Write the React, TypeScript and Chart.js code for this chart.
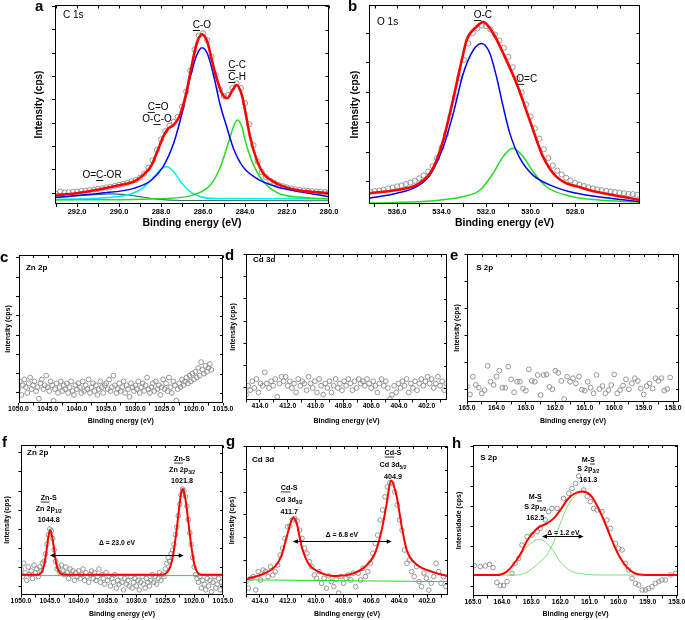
import React, { useEffect, useRef } from "react";
import { Chart, registerables } from "chart.js";

Chart.register(...registerables);

const FONT = "'Liberation Sans', Arial, Helvetica, sans-serif";
Chart.defaults.font.family = FONT;
Chart.defaults.color = "#000";

/* ======================= DATA ======================= */

// ---- a : C 1s ----
const aXTicks = [292, 290, 288, 286, 284, 282, 280];
const aCircleStart = 293.0;
const aCircleStep = 0.2;
const aCircles = [
  -0.3, 0.6, 0.2, 0.3, 0.5, 0.6, 0.9, 1.0, 1.2, 1.5,
  1.8, 2.0, 2.4, 2.7, 3.1, 3.5, 3.9, 4.3, 5.0, 5.6,
  6.6, 8.3, 10.8, 14.0, 18.5, 23.0, 26.5, 28.8, 30.5, 32.7,
  37.0, 43.5, 52.5, 61.5, 67.5, 68.5, 65.5, 58.5, 50.5, 44.5,
  41.5, 42.0, 45.0, 47.0, 45.0, 38.5, 29.5, 20.5, 13.5, 9.0,
  6.8, 5.2, 4.3, 3.5, 2.9, 2.4, 2.0, 1.6, 1.3, 1.1,
  0.9, 0.8, 0.6, 0.5, 0.4, 0.3,
];
const aFitSum = [
  [293.05, -0.9], [292.0, -0.1], [290.9, 1.6], [289.95, 3.4], [289.3, 4.9], [288.85, 7.7],
  [288.45, 12.0], [288.15, 18.4], [287.9, 24.1], [287.65, 27.7], [287.4, 29.1], [287.1, 33.4],
  [286.8, 42.7], [286.55, 54.1], [286.3, 64.1], [286.05, 68.0], [285.8, 64.9], [285.6, 57.7],
  [285.35, 49.1], [285.1, 42.7], [284.85, 40.6], [284.6, 44.1], [284.4, 46.3], [284.15, 42.0],
  [284.0, 35.6], [283.76, 24.1], [283.44, 14.1], [283.13, 8.4], [282.65, 4.9], [282.33, 3.4],
  [281.54, 1.3], [280.0, -0.1],
];
const aFitCO = [
  [293.05, -1.9], [290.9, -0.1], [289.3, 2.0], [288.45, 5.6], [287.9, 11.3], [287.4, 21.3],
  [287.0, 34.2], [286.6, 49.9], [286.3, 59.1], [286.05, 62.3], [285.8, 59.9], [285.5, 50.6],
  [285.2, 38.4], [284.85, 27.7], [284.55, 19.1], [284.1, 11.3], [283.45, 6.3], [282.5, 2.7],
  [281.4, 0.6], [280.0, -1.6],
];
const aFitCC = [
  [293.05, -3.0], [287.7, -2.3], [286.5, -0.9], [285.65, 3.4], [285.2, 10.6], [284.8, 21.3],
  [284.55, 28.4], [284.37, 31.3], [284.15, 28.4], [284.0, 22.7], [283.75, 15.5], [283.3, 7.0],
  [282.8, 2.0], [282.3, -0.5], [281.0, -2.0], [280.0, -2.5],
];
const aFitCdO = [
  [293.05, -2.7], [290.1, -1.6], [289.0, 1.3], [288.4, 6.3], [288.0, 10.3], [287.7, 11.3],
  [287.4, 9.1], [287.0, 4.1], [286.5, -0.1], [285.5, -2.3], [280.0, -2.4],
];
const aFitOCOR = [
  [293.05, -1.8], [291.5, -0.9], [290.3, -0.4], [289.2, -1.3], [288.2, -2.6], [287.0, -3.2], [280.0, -3.3],
];

// ---- b : O 1s ----
const bXTicks = [536, 534, 532, 530, 528];
const bCircleStart = 537.2;
const bCircleStep = 0.2;
const bCircles = [
  -3.3, -3.1, -2.9, -2.6, -2.2, -1.9, -1.5, -1.2, -0.7, -0.2,
  0.4, 1.2, 2.2, 3.5, 5.3, 8.0, 11.5, 16.0, 22.0, 28.5,
  35.0, 41.0, 46.5, 50.0, 51.5, 52.5, 52.3, 51.2, 49.5, 47.5,
  45.0, 42.0, 38.5, 34.5, 30.0, 26.0, 22.0, 18.0, 14.5, 11.0,
  8.0, 5.5, 3.8, 2.5, 1.4, 0.5, -0.3, -0.9, -1.4, -1.8,
  -2.2, -2.5, -2.8, -3.0, -3.2, -3.4, -3.6, -3.8, -4.0, -4.1,
  -4.3,
];
const bFitSum = [
  [537.26, -3.8], [536.01, -2.7], [535.12, -1.0], [534.52, 2.9], [534.22, 7.4], [533.92, 14.1],
  [533.62, 23.1], [533.32, 33.1], [533.02, 43.2], [532.87, 47.7], [532.43, 52.1], [532.13, 53.7],
  [531.68, 49.9], [531.23, 43.2], [530.63, 33.1], [530.04, 20.8], [529.44, 8.5], [528.84, 1.8],
  [527.65, -2.1], [526.3, -4.4], [525.1, -6.0],
];
const bFitOC = [
  [537.26, -5.5], [536.01, -3.8], [535.12, -1.6], [534.52, 2.3], [533.92, 11.8], [533.47, 23.1],
  [533.02, 36.5], [532.57, 44.3], [532.2, 46.5], [531.83, 43.2], [531.53, 35.3], [531.23, 25.3],
  [530.93, 16.3], [530.48, 8.0], [529.89, 2.3], [529.14, -1.0], [528.24, -3.3], [527.05, -4.9],
  [525.1, -6.6],
];
const bFitOdC = [
  [537.26, -7.1], [534.52, -6.4], [533.02, -4.9], [532.27, -2.7], [531.68, 2.9], [531.23, 8.5],
  [530.81, 11.3], [530.33, 8.5], [529.89, 3.5], [529.29, -1.6], [528.24, -4.7], [527.05, -6.0],
  [525.1, -6.8],
];

// ---- c : Zn 2p (before) ----
const cXTicks = [1050, 1045, 1040, 1035, 1030, 1025, 1020, 1015];
const cCircleStart = 1050;
const cCircleStep = 0.25;
const cCircles = [
  2, 6, -1, 4, 7, 3, 0, 5, 8, 2,
  4, 6, 1, 3, -3, 5, 7, 2, 4, 9,
  3, 1, 6, 4, -4, 2, 5, 0, 3, 6,
  1, 4, 2, 5, 0, 3, 6, 1, -1, 4,
  2, 5, 3, 0, 6, 1, 4, 2, 7, 0,
  3, 5, 1, 4, -1, 2, 6, 3, 0, 4,
  5, 2, 7, 1, 3, 9, 4, 0, 2, 5,
  1, 3, 6, 0, 4, 2, -2, 5, 3, 1,
  4, 2, 6, 0, 3, 5, 1, 4, 8, 2,
  0, 3, 5, 1, 6, 2, 4, -1, 3, 7,
  2, 5, 1, 8, 3, 0, 6, 4, -4, 2,
  5, 3, 7, 4, 6, 8, 5, 9, 6, 10,
  7, 11, 8, 13, 9, 16, 12, 10, 14, 11,
  13, 15, 12,
];

// ---- d : Cd 3d (before) ----
const dXTicks = [414, 412, 410, 408, 406, 404, 402];
const dCircleStart = 415;
const dCircleStep = 0.15;
const dCircles = [
  -3, 1, -1, 3, 0, 4, -2, 2, 1, 7,
  2, 0, 3, 1, 4, -4, 2, 5, 3, 5,
  1, 3, 0, 2, -2, 4, 1, 3, 2, -1,
  5, 2, 0, 3, -2, 4, 1, -3, 2, 0,
  3, -2, 1, 4, 0, 2, -1, 3, 1, 4,
  2, -1, 3, 0, 4, 2, 3, 1, 4, 2,
  0, 3, 1, -2, 2, 4, 1, 3, 0, -5,
  -3, 1, -2, 2, 0, 3, 1, 4, -2, 2,
  0, 3, -1, 2, 4, 1, 3, 5, 2, 4,
  0, 2, 5, 1, 3, -1, 2,
];

// ---- e : S 2p (before) ----
const eXTicks = [165, 164, 163, 162, 161, 160, 159, 158];
const eCircleStart = 165;
const eCircleStep = 0.1;
const eCircles = [
  1.1, -2.0, 4.6, 1.5, 0.5, -1.6, -0.4, 8.6, 2.7, 1.5,
  4.6, 6.8, 0.5, 0.5, 8.3, 3.6, -1.2, 2.7, 2.7, 0.2,
  -0.6, 7.3, 3.0, 2.7, 5.2, -2.2, 5.2, 5.4, 0.8, -0.1,
  6.8, 6.0, 3.0, -3.7, 4.6, 2.7, 4.0, 2.1, 4.6, -0.2,
  -0.6, 2.7, 0.5, -1.6, 5.2, 0.0, 1.1, -1.6, -0.4, 1.5,
  5.4, -1.6, -0.4, 1.3, 3.6, -0.1, 2.1, 4.0, 3.0, 0.2,
  -2.0, 1.1, 2.1, 0.2, 4.0, 3.0, 4.0, -0.6, 0.0, 4.3,
];

// ---- f : Zn 2p (after) ----
const fXTicks = [1050, 1045, 1040, 1035, 1030, 1025, 1020, 1015];
const fCircleStart = 1050;
const fCircleStep = 0.25;
const fCircles = [
  9, 5, 12, 7, 3, 10, 6, 8, 4, 11,
  7, 9, 5, 10, 8, 12, 13, 17, 22, 27,
  30, 29, 25, 19, 13, 9, 10, 7, 11, 8,
  6, 10, 7, 4, 9, 6, 8, 3, 7, 5,
  8, 4, 6, 9, 3, 7, 5, 2, 6, 8,
  4, 7, 3, 5, 9, 2, 6, 4, 1, 7,
  3, 5, 0, 4, 2, 6, -1, 3, 1, 5,
  2, -2, 4, 1, 3, 0, 5, -1, 2, 4,
  0, 3, -2, 2, 5, 1, -1, 4, 2, 0,
  3, 6, 2, 5, 1, 4, 7, 3, 6, 5,
  9, 12, 15, 13, 17, 19, 22, 27, 31, 37,
  43, 48, 51, 50, 47, 42, 35, 28, 22, 15,
  10, 6, 4, 2, 5, -1, 3, 1, -2, 4,
  0, 3, -3, 2, 5, -1, 1, 4, -2, 2,
  0,
];
const fFitSum = [
  [1050, 6.0], [1047.0, 6.0], [1046.4, 7.5], [1046.0, 11], [1045.6, 18], [1045.3, 25],
  [1044.95, 29.5], [1044.6, 26], [1044.25, 19], [1043.9, 12], [1043.5, 8], [1042.9, 6.2],
  [1042.0, 6.0], [1025.4, 6.0], [1024.7, 7.2], [1024.1, 10.5], [1023.6, 17], [1023.1, 28],
  [1022.6, 41], [1022.25, 49], [1022.0, 51], [1021.75, 49.5], [1021.4, 43.5], [1020.9, 31],
  [1020.4, 19], [1019.9, 10.5], [1019.4, 7.2], [1018.8, 6.0], [1015, 6.0],
];
const fBaseline = [[1050, 5.5], [1015, 5.5]];

// ---- g : Cd 3d (after) ----
const gXTicks = [414, 412, 410, 408, 406, 404, 402];
const gCircleStart = 415;
const gCircleStep = 0.175;
const gCircles = [
  0.6, -2.3, 2.1, 2.8, -3.1, 5.0, 1.3, 5.7, 5.0, 2.8,
  7.2, 3.5, 5.0, 7.9, 12.3, 15.3, 19.7, 24.8, 25.1, 27.8,
  28.5, 27.4, 23.3, 19.7, 15.3, 13.1, 9.4, 7.2, 3.5, 2.1,
  5.0, -0.1, 2.1, -2.3, 3.1, 0.6, -1.6, 1.6, -4.5, 2.8,
  -0.1, 2.1, 3.5, 1.3, 4.3, -1.6, 4.3, 1.3, 6.5, 2.8,
  5.0, 8.7, 13.1, 17.5, 21.1, 27.8, 32.2, 38.0, 42.4, 44.2,
  43.9, 40.2, 34.4, 27.8, 23.3, 14.5, 8.7, 10.1, 5.0, 2.8,
  7.2, 0.6, -1.6, 4.3, 2.1, -3.1, -0.1, 2.8, 8.7, 5.0,
  -0.1, 2.8, -1.6,
];
const gFitSum = [
  [415.03, 1.6], [413.64, 4.3], [412.92, 7.2], [412.44, 12.3], [412.08, 20.4], [411.72, 27.8],
  [411.6, 28.9], [411.36, 26.3], [411.0, 16.0], [410.53, 8.7], [409.81, 5.0], [408.61, 3.1],
  [407.41, 4.0], [406.46, 7.2], [405.74, 13.1], [405.26, 23.3], [404.9, 35.1], [404.6, 45.2],
  [404.18, 38.0], [403.82, 24.8], [403.46, 14.5], [402.86, 8.7], [401.67, 5.0], [400.52, 3.1],
];
const gBaseline = [[415.03, 1.4], [400.52, 0.6]];

// ---- h : S 2p (after) ----
const hXTicks = [165, 164, 163, 162, 161, 160, 159, 158];
const hCircleE = [
  164.96, 164.75, 164.58, 164.43, 164.31, 164.18, 164.06, 163.95, 163.83, 163.66,
  163.55, 163.43, 163.32, 163.14, 162.97, 162.8, 162.69, 162.52, 162.4, 162.29,
  162.11, 161.89, 161.71, 161.6, 161.48, 161.37, 161.2, 161.08, 160.97, 160.86,
  160.74, 160.57, 160.4, 160.28, 160.11, 160.0, 159.88, 159.77, 159.65, 159.54,
  159.42, 159.31, 159.19, 159.08, 158.97, 158.85, 158.74, 158.62, 158.51, 158.39,
  158.22, 158.05,
];
const hCircleV = [
  10.2, 9.7, 10, 10.8, 9.2, 1.8, 0.2, 0.2, 2.2, 6.3,
  11.3, 13.8, 20.5, 24.7, 25.5, 27.2, 28.8, 33, 37.2, 38.8,
  38.8, 43.8, 46.3, 48.8, 51.3, 55, 48, 44.7, 42.2, 38.8,
  38, 37.2, 33, 28.8, 21.3, 18.8, 18, 11.3, 8, 3.8,
  1.3, 0.5, -2, -2, -1.2, -0.3, 1.3, 2.2, 3, 3,
  5.5, 6.3,
];
const hFitSum = [
  [165, 5.5], [164.2, 5.5], [163.84, 7.2], [163.5, 13], [163.33, 17], [163.15, 22.5],
  [162.8, 28.8], [162.46, 31.3], [162.23, 33.8], [162.0, 38], [161.77, 43], [161.54, 46],
  [161.25, 47.2], [160.97, 45.5], [160.75, 40.5], [160.51, 33], [160.28, 24.7], [160.06, 17.2],
  [159.82, 11.3], [159.6, 7.7], [159.37, 6], [158.91, 5.5], [157.96, 5.5],
];
const hFitP12 = [
  [165, 5.5], [164.18, 5.5], [163.72, 8.8], [163.37, 15.5], [163.03, 21.3], [162.71, 23.3],
  [162.46, 21.3], [162.23, 17.2], [162.0, 12.2], [161.66, 7.7], [161.2, 6.0], [160.63, 5.5],
  [157.96, 5.5],
];
const hFitP32 = [
  [165, 5.5], [163.5, 5.5], [163.2, 6.5], [162.9, 9.5], [162.63, 13.0], [162.46, 15.5],
  [162.23, 22.1], [162.0, 31.3], [161.77, 39.5], [161.54, 44.5], [161.25, 47.0], [160.97, 45.3],
  [160.75, 40.3], [160.51, 33.0], [160.28, 24.7], [160.06, 17.2], [159.82, 11.3], [159.6, 7.7],
  [159.37, 6.0], [158.91, 5.5], [157.96, 5.5],
];

/* ======================= HELPERS ======================= */

const grid = (start: number, step: number, vals: number[]) =>
  vals.map((v, i) => ({ x: Math.round((start - i * step) * 1000) / 1000, y: v }));
const pairs = (pts: number[][]) => pts.map(([x, y]) => ({ x, y }));
const zip = (xs: number[], ys: number[]) => xs.map((x, i) => ({ x, y: ys[i] }));

const RED = "#ff0000";
const BLUE = "#0000ff";
const GREEN = "#22dd22";
const CYAN = "#00eeee";

/* ======================= PANELS ======================= */

const XT = "Binding energy (eV)";
const YT = "Intensity (cps)";

const PANELS: any[] = [
  {
    letter: "a", letterXY: [35, 10.5],
    box: [0, 0, 342, 230], area: [55, 5, 329, 204],
    x: { min: 280.0, max: 293.05, minor: 1, labels: aXTicks, font: 7.5, tick: 3 },
    y: { min: -4.7, max: 80.6, step: 10, tick: 3 },
    xTitle: XT, xTitleY: 222.7, xTitleSize: 10.5,
    yTitle: YT, yTitleX: 39, yTitleSize: 10,
    curves: [
      { pts: aFitSum, color: RED, width: 2.6 },
      { pts: aFitCO, color: BLUE, width: 1.5 },
      { pts: aFitCC, color: GREEN, width: 1.5 },
      { pts: aFitCdO, color: CYAN, width: 1.5 },
      { pts: aFitOCOR, color: "#2e6e6e", width: 1.2 },
    ],
    points: grid(aCircleStart, aCircleStep, aCircles), r: 2.6, pointColor: "#8c8c8c",
    texts: [
      { x: 292.67, y: 76.3, s: "C 1s", size: 10, align: "left" },
      { x: 286.05, y: 72.0, s: "_C_-O", size: 10 },
      { x: 284.38, y: 54.9, s: "_C_-C", size: 10 },
      { x: 284.38, y: 49.7, s: "_C_-H", size: 10 },
      { x: 288.14, y: 36.9, s: "_C_=O", size: 10 },
      { x: 288.19, y: 31.7, s: "O-_C_-O", size: 10 },
      { x: 290.81, y: 7.7, s: "O=_C_-OR", size: 10 },
    ],
    arrows: [],
  },
  {
    letter: "b", letterXY: [348, 10.5],
    box: [340, 0, 345, 230], area: [369, 5, 640, 204],
    x: { min: 525.08, max: 537.26, minor: 1, labels: bXTicks, font: 7.5, tick: 3 },
    y: { min: -7.4, max: 59.4, step: 10, tick: 3 },
    xTitle: XT, xTitleY: 222.7, xTitleSize: 10.5,
    yTitle: YT, yTitleX: 355, yTitleSize: 10,
    curves: [
      { pts: bFitSum, color: RED, width: 2.6 },
      { pts: bFitOC, color: BLUE, width: 1.5 },
      { pts: bFitOdC, color: GREEN, width: 1.5 },
    ],
    points: grid(bCircleStart, bCircleStep, bCircles), r: 2.6, pointColor: "#8c8c8c",
    texts: [
      { x: 536.9, y: 53.7, s: "O 1s", size: 10, align: "left" },
      { x: 532.14, y: 56.0, s: "_O_-C", size: 10 },
      { x: 530.17, y: 34.6, s: "_O_=C", size: 10 },
    ],
    arrows: [],
  },
  {
    letter: "c", letterXY: [0, 262],
    box: [0, 240, 240, 186], area: [18.5, 255, 223, 403],
    x: { min: 1015, max: 1050, minor: 2.5, labels: cXTicks, font: 6.8, tick: 2.5 },
    y: { min: -5.2, max: 71.5, step: 10, tick: 2.5 },
    xTitle: XT, xTitleY: 421, xTitleSize: 7,
    yTitle: YT, yTitleX: 8.5, yTitleSize: 7,
    curves: [],
    points: grid(cCircleStart, cCircleStep, cCircles), r: 2.4, pointColor: "#8a8a8a",
    texts: [{ x: 1048.72, y: 64.8, s: "Zn 2p", size: 8, bold: true, align: "left" }],
    arrows: [],
  },
  {
    letter: "d", letterXY: [225, 259.5],
    box: [225, 240, 235, 186], area: [246, 254, 447, 400],
    x: { min: 400.55, max: 415.0, minor: 1, labels: dXTicks, font: 6.8, tick: 2.5 },
    y: { min: -5.4, max: 60.1, step: 10, tick: 2.5 },
    xTitle: XT, xTitleY: 421, xTitleSize: 7,
    yTitle: YT, yTitleX: 233.5, yTitleSize: 7,
    curves: [],
    points: grid(dCircleStart, dCircleStep, dCircles), r: 2.4, pointColor: "#8a8a8a",
    texts: [{ x: 414.49, y: 57.4, s: "Cd 3d", size: 8, bold: true, align: "left" }],
    arrows: [],
  },
  {
    letter: "e", letterXY: [450, 259.5],
    box: [450, 240, 235, 186], area: [467, 254, 679, 402],
    x: { min: 157.8, max: 165, minor: 0.5, labels: eXTicks, font: 6.8, tick: 2.5 },
    y: { min: -4.8, max: 50, step: 10, tick: 2.5 },
    xTitle: XT, xTitleY: 421, xTitleSize: 7,
    yTitle: YT, yTitleX: 457.5, yTitleSize: 7,
    curves: [],
    points: grid(eCircleStart, eCircleStep, eCircles), r: 2.4, pointColor: "#8a8a8a",
    texts: [{ x: 164.69, y: 44.8, s: "S 2p", size: 8, bold: true, align: "left" }],
    arrows: [],
  },
  {
    letter: "f", letterXY: [2, 446.5],
    box: [0, 425, 240, 195], area: [21, 445, 223, 595],
    x: { min: 1015, max: 1050, minor: 2.5, labels: fXTicks, font: 6.8, tick: 2.5 },
    y: { min: -4.7, max: 74.2, step: 10, tick: 2.5 },
    xTitle: XT, xTitleY: 614, xTitleSize: 7,
    yTitle: YT, yTitleX: 7.5, yTitleSize: 7,
    curves: [
      { pts: fFitSum, color: RED, width: 2 },
      { pts: fBaseline, color: GREEN, width: 1 },
    ],
    points: grid(fCircleStart, fCircleStep, fCircles), r: 2.3, pointColor: "#8a8a8a",
    texts: [
      { x: 1048.96, y: 70.0, s: "Zn 2p", size: 8, bold: true, align: "left" },
      { x: 1045.2, y: 46.3, s: "_Zn_-S", size: 7.2, bold: true },
      { x: 1045.2, y: 40.5, s: "Zn 2p{1/2}", size: 7.2, bold: true },
      { x: 1045.2, y: 34.7, s: "1044.8", size: 7.2, bold: true },
      { x: 1022.1, y: 66.8, s: "_Zn_-S", size: 7.2, bold: true },
      { x: 1022.1, y: 61.1, s: "Zn 2p{3/2}", size: 7.2, bold: true },
      { x: 1022.1, y: 55.3, s: "1021.8", size: 7.2, bold: true },
      { x: 1033.37, y: 22.6, s: "\u0394 = 23.0 eV", size: 6.8, bold: true },
    ],
    arrows: [{ x1: 1045.0, x2: 1021.8, y: 16.3 }],
  },
  {
    letter: "g", letterXY: [226, 445.5],
    box: [225, 425, 235, 195], area: [246, 446, 448, 595],
    x: { min: 400.5, max: 415.0, minor: 1, labels: gXTicks, font: 6.8, tick: 2.5 },
    y: { min: -5.3, max: 60.4, step: 10, tick: 2.5 },
    xTitle: XT, xTitleY: 614, xTitleSize: 7,
    yTitle: YT, yTitleX: 232.5, yTitleSize: 7,
    curves: [
      { pts: gFitSum, color: RED, width: 2 },
      { pts: gBaseline, color: GREEN, width: 1 },
    ],
    points: grid(gCircleStart, gCircleStep, gCircles), r: 2.3, pointColor: "#8a8a8a",
    texts: [
      { x: 414.57, y: 54.2, s: "Cd 3d", size: 8, bold: true, align: "left" },
      { x: 411.9, y: 41.9, s: "_Cd_-S", size: 7.2, bold: true },
      { x: 411.9, y: 36.6, s: "Cd 3d{3/2}", size: 7.2, bold: true },
      { x: 411.9, y: 31.3, s: "411.7", size: 7.2, bold: true },
      { x: 404.45, y: 57.3, s: "_Cd_-S", size: 7.2, bold: true },
      { x: 404.45, y: 52.0, s: "Cd 3d{5/2}", size: 7.2, bold: true },
      { x: 404.45, y: 46.7, s: "404.9", size: 7.2, bold: true },
      { x: 408.11, y: 21.1, s: "\u0394 = 6.8 eV", size: 6.8, bold: true },
    ],
    arrows: [{ x1: 411.63, x2: 404.54, y: 18.6 }],
  },
  {
    letter: "h", letterXY: [452, 447.5],
    box: [450, 425, 235, 195], area: [473, 445, 678, 596],
    x: { min: 157.96, max: 165, minor: 0.5, labels: hXTicks, font: 6.8, tick: 2.5 },
    y: { min: -5, max: 70.5, step: 10, tick: 2.5 },
    xTitle: XT, xTitleY: 614, xTitleSize: 7,
    yTitle: "Intensidade (cps)", yTitleX: 459, yTitleSize: 7,
    curves: [
      { pts: hFitSum, color: RED, width: 2 },
      { pts: hFitP12, color: "#66e066", width: 0.9 },
      { pts: hFitP32, color: "#66e066", width: 0.9 },
    ],
    points: zip(hCircleE, hCircleV), r: 2.3, pointColor: "#8a8a8a",
    texts: [
      { x: 164.75, y: 64, s: "S 2p", size: 8, bold: true, align: "left" },
      { x: 162.86, y: 44.5, s: "M-_S_", size: 7.2, bold: true },
      { x: 162.86, y: 39.5, s: "S 2p{1/2}", size: 7.2, bold: true },
      { x: 162.86, y: 34, s: "162.5", size: 7.2, bold: true },
      { x: 161.04, y: 63, s: "M-_S_", size: 7.2, bold: true },
      { x: 161.04, y: 58.5, s: "S 2p{3/2}", size: 7.2, bold: true },
      { x: 161.04, y: 53, s: "161.3", size: 7.2, bold: true },
      { x: 161.9, y: 26.5, s: "\u0394 = 1.2 eV", size: 6.8, bold: true },
    ],
    arrows: [{ x1: 162.63, x2: 161.2, y: 25 }],
  },
];

/* ======================= DRAWING ======================= */

function parseRich(s: string) {
  const parts: { t: string; u: boolean; sub: boolean }[] = [];
  let u = false, sub = false, buf = "";
  const flush = () => { if (buf) parts.push({ t: buf, u, sub }); buf = ""; };
  for (const ch of s) {
    if (ch === "_") { flush(); u = !u; }
    else if (ch === "{") { flush(); sub = true; }
    else if (ch === "}") { flush(); sub = false; }
    else buf += ch;
  }
  flush();
  return parts;
}

function drawRich(ctx: CanvasRenderingContext2D, s: string, x: number, y: number, size: number, bold: boolean, align: string) {
  const w8 = bold ? "bold" : "normal";
  const main = `${w8} ${size}px ${FONT}`;
  const subf = `${w8} ${(size * 0.68).toFixed(2)}px ${FONT}`;
  const parts = parseRich(s);
  let total = 0;
  for (const p of parts) { ctx.font = p.sub ? subf : main; total += ctx.measureText(p.t).width; }
  let cx = align === "left" ? x : x - total / 2;
  ctx.textAlign = "left";
  ctx.textBaseline = "middle";
  for (const p of parts) {
    ctx.font = p.sub ? subf : main;
    const pw = ctx.measureText(p.t).width;
    ctx.fillText(p.t, cx, p.sub ? y + size * 0.38 : y);
    if (p.u) ctx.fillRect(cx, y + size * 0.5, pw, Math.max(0.8, size * 0.09));
    cx += pw;
  }
}

function overlayPlugin(p: any) {
  return {
    id: "overlay",
    afterDraw(chart: any) {
      const { ctx, chartArea: ca, scales } = chart;
      const xs = scales.x, ys = scales.y;
      ctx.save();
      ctx.strokeStyle = "#000";
      ctx.fillStyle = "#000";
      ctx.lineWidth = 1;
      const L = Math.round(ca.left) + 0.5, T = Math.round(ca.top) + 0.5;
      const R = Math.round(ca.right) - 0.5, B = Math.round(ca.bottom) - 0.5;
      ctx.strokeRect(L, T, R - L, B - T);
      // inward ticks on top and right sides
      ctx.beginPath();
      for (const t of xs.ticks) {
        const px = Math.round(xs.getPixelForValue(t.value)) + 0.5;
        ctx.moveTo(px, T); ctx.lineTo(px, T + p.x.tick);
      }
      for (const t of ys.ticks) {
        const py = Math.round(ys.getPixelForValue(t.value)) + 0.5;
        ctx.moveTo(R, py); ctx.lineTo(R - p.y.tick, py);
      }
      ctx.stroke();
      // arrows
      for (const a of p.arrows) {
        const x1 = Math.min(xs.getPixelForValue(a.x1), xs.getPixelForValue(a.x2));
        const x2 = Math.max(xs.getPixelForValue(a.x1), xs.getPixelForValue(a.x2));
        const y = Math.round(ys.getPixelForValue(a.y)) + 0.5;
        ctx.beginPath(); ctx.moveTo(x1 + 2, y); ctx.lineTo(x2 - 2, y); ctx.stroke();
        ctx.beginPath();
        ctx.moveTo(x1, y); ctx.lineTo(x1 + 5, y - 2.2); ctx.lineTo(x1 + 5, y + 2.2); ctx.closePath();
        ctx.moveTo(x2, y); ctx.lineTo(x2 - 5, y - 2.2); ctx.lineTo(x2 - 5, y + 2.2); ctx.closePath();
        ctx.fill();
      }
      // texts
      for (const t of p.texts) {
        drawRich(ctx, t.s, xs.getPixelForValue(t.x), ys.getPixelForValue(t.y), t.size, !!t.bold, t.align || "center");
      }
      // panel letter
      ctx.font = `bold 15px ${FONT}`;
      ctx.textAlign = "left";
      ctx.textBaseline = "alphabetic";
      ctx.fillText(p.letter, p.letterXY[0] - p.box[0], p.letterXY[1] - p.box[1]);
      ctx.restore();
    },
  };
}

function buildConfig(p: any) {
  const [bl, bt, bw, bh] = p.box;
  const [al, at, ar, ab] = p.area;
  const padLeft = p.yTitleX - p.yTitleSize * 0.6 - bl;
  const yW = al - bl - padLeft;
  const padTop = at - bt;
  const padRight = bl + bw - ar;
  const xTitleBottom = p.xTitleY + p.xTitleSize * 0.6;
  const padBottom = bt + bh - xTitleBottom;
  const xH = xTitleBottom - ab;
  const labels: number[] = p.x.labels;

  const datasets: any[] = p.curves.map((c: any, i: number) => ({
    data: pairs(c.pts),
    borderColor: c.color,
    borderWidth: c.width,
    pointRadius: 0,
    fill: false,
    cubicInterpolationMode: "monotone",
    borderJoinStyle: "round",
    order: i,
  }));
  datasets.push({
    data: p.points,
    showLine: false,
    pointRadius: p.r,
    pointBorderColor: p.pointColor,
    pointBackgroundColor: "rgba(0,0,0,0)",
    pointBorderWidth: 0.9,
    order: 50,
  });

  return {
    type: "line",
    data: { datasets },
    options: {
      responsive: false,
      animation: false,
      devicePixelRatio: 1,
      events: [],
      layout: { padding: { left: padLeft, top: padTop, right: padRight, bottom: padBottom } },
      plugins: { legend: { display: false }, tooltip: { enabled: false }, title: { display: false } },
      scales: {
        x: {
          type: "linear",
          reverse: true,
          min: p.x.min,
          max: p.x.max,
          afterFit: (s: any) => { s.height = xH; s.paddingLeft = 0; s.paddingRight = 0; },
          ticks: {
            stepSize: p.x.minor,
            includeBounds: false,
            autoSkip: false,
            maxRotation: 0,
            minRotation: 0,
            padding: 0,
            color: "#000",
            font: { size: p.x.font, weight: "bold", family: FONT },
            callback: (v: number) => (labels.some((l) => Math.abs(l - v) < 1e-6) ? Number(v).toFixed(1) : ""),
          },
          grid: { display: true, drawOnChartArea: false, drawTicks: true, tickLength: p.x.tick, color: "#000", lineWidth: 1 },
          border: { display: false },
          title: { display: true, text: p.xTitle, color: "#000", padding: 0, font: { size: p.xTitleSize, weight: "bold", family: FONT } },
        },
        y: {
          type: "linear",
          min: p.y.min,
          max: p.y.max,
          afterFit: (s: any) => { s.width = yW; s.paddingTop = 0; s.paddingBottom = 0; },
          ticks: { display: false, stepSize: p.y.step, includeBounds: false },
          grid: { display: true, drawOnChartArea: false, drawTicks: true, tickLength: p.y.tick, color: "#000", lineWidth: 1 },
          border: { display: false },
          title: { display: true, text: p.yTitle, color: "#000", padding: 0, font: { size: p.yTitleSize, weight: "bold", family: FONT } },
        },
      },
    },
    plugins: [overlayPlugin(p)],
  };
}

function PanelChart({ p }: { p: any }) {
  const ref = useRef<HTMLCanvasElement>(null);
  useEffect(() => {
    if (!ref.current) return;
    const chart = new Chart(ref.current, buildConfig(p) as any);
    return () => chart.destroy();
  }, [p]);
  const [l, t, w, h] = p.box;
  return (
    <canvas
      ref={ref}
      width={w}
      height={h}
      style={{ position: "absolute", left: l, top: t, width: w, height: h }}
    />
  );
}

export default function App() {
  return (
    <div style={{ position: "absolute", left: 0, top: 0, width: 685, height: 620, background: "#fff", overflow: "hidden" }}>
      {PANELS.map((p) => (
        <PanelChart key={p.letter} p={p} />
      ))}
    </div>
  );
}
